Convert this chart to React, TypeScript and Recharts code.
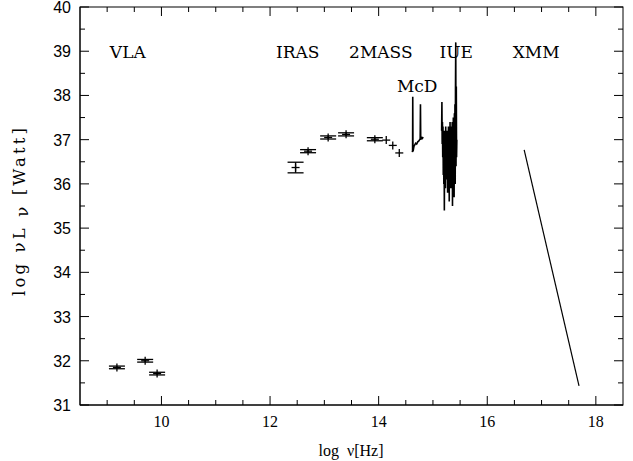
import React from 'react';
import {
  ScatterChart,
  Scatter,
  XAxis,
  YAxis,
  ErrorBar,
  ReferenceDot,
} from 'recharts';

// photometry: log nu, log nuL_nu, error in y
const vlaX = [9.18, 9.7, 9.92];
const vlaY = [31.85, 32.0, 31.71];
const vlaErr = [0.03, 0.03, 0.03];

const irX = [12.47, 12.7, 13.07, 13.4, 13.93, 14.14, 14.26, 14.38];
const irY = [36.37, 36.74, 37.05, 37.12, 37.01, 36.99, 36.87, 36.7];
const irErr = [0.12, 0.035, 0.035, 0.035, 0.035, 0, 0, 0];

// McDonald optical spectrum
const mcdX = [14.62, 14.625, 14.628, 14.632, 14.64, 14.65, 14.665, 14.68, 14.7, 14.72, 14.74, 14.755, 14.765, 14.77, 14.775, 14.79, 14.805, 14.82];
const mcdY = [36.72, 36.75, 37.97, 36.8, 36.78, 36.85, 36.88, 36.92, 36.9, 36.95, 36.97, 37.0, 37.02, 37.8, 37.0, 37.05, 37.03, 37.06];

// IUE UV spectrum
const iueX = [
  15.16, 15.165, 15.17, 15.175, 15.18, 15.185, 15.19, 15.195, 15.2, 15.205,
  15.21, 15.215, 15.22, 15.225, 15.23, 15.235, 15.24, 15.245, 15.25, 15.255,
  15.26, 15.265, 15.27, 15.275, 15.28, 15.285, 15.29, 15.295, 15.3, 15.305,
  15.31, 15.315, 15.32, 15.325, 15.33, 15.335, 15.34, 15.345, 15.35, 15.355,
  15.36, 15.365, 15.37, 15.375, 15.38, 15.385, 15.39, 15.395, 15.4, 15.405,
  15.41, 15.415, 15.42, 15.425, 15.43, 15.435, 15.44,
];
const iueY = [
  37.2, 37.85, 36.9, 37.4, 36.6, 37.3, 36.2, 37.1, 36.0, 36.9,
  35.4, 37.2, 36.3, 37.0, 35.9, 37.3, 36.4, 36.9, 36.1, 37.2,
  36.5, 37.0, 35.8, 37.1, 36.3, 37.3, 36.0, 37.0, 35.6, 37.2,
  36.4, 37.4, 36.2, 37.0, 35.9, 37.3, 36.6, 37.1, 36.0, 37.4,
  35.5, 37.2, 36.3, 37.5, 36.1, 37.3, 35.7, 37.6, 36.2, 37.8,
  36.0, 38.1, 39.2, 36.4, 38.2, 36.6, 37.0,
];

// XMM X-ray power law
const xmmX = [16.68, 17.69];
const xmmY = [36.77, 31.43];

const xTicks = [9, 9.5, 10, 10.5, 11, 11.5, 12, 12.5, 13, 13.5, 14, 14.5, 15, 15.5, 16, 16.5, 17, 17.5, 18];
const yTicks = [31, 31.5, 32, 32.5, 33, 33.5, 34, 34.5, 35, 35.5, 36, 36.5, 37, 37.5, 38, 38.5, 39, 39.5, 40];

const annotations = [
  { text: 'VLA', x: 9.38, y: 38.98 },
  { text: 'IRAS', x: 12.51, y: 38.98 },
  { text: '2MASS', x: 14.04, y: 38.98 },
  { text: 'IUE', x: 15.43, y: 38.98 },
  { text: 'XMM', x: 16.9, y: 38.98 },
  { text: 'McD', x: 14.71, y: 38.22 },
];

const X_DOMAIN = [8.5, 18.5];
const Y_DOMAIN = [31, 40];

// layout
const W = 633;
const H = 461;
const MARGIN = { top: 7, right: 10, bottom: 0, left: 0 };
const Y_AXIS_W = 80;
const X_AXIS_H = 56;
const plot = {
  left: MARGIN.left + Y_AXIS_W,
  top: MARGIN.top,
  width: W - MARGIN.left - MARGIN.right - Y_AXIS_W,
  height: H - MARGIN.top - MARGIN.bottom - X_AXIS_H,
};

const zip = (xs: number[], ys: number[], es?: number[]) =>
  xs.map((x, i) => ({ x, y: ys[i], ey: es ? es[i] : 0 }));

const vlaData = zip(vlaX, vlaY, vlaErr);
const irData = zip(irX, irY, irErr);
const mcdData = zip(mcdX, mcdY);
const iueData = zip(iueX, iueY);
const xmmData = zip(xmmX, xmmY);

const serif = '"Liberation Serif", "DejaVu Serif", serif';
const sans = '"Liberation Sans", Arial, sans-serif';

const BottomTick = (props: any) => {
  const { x, y, payload } = props;
  const major = payload.value % 2 === 0;
  return (
    <g>
      <line x1={x} x2={x} y1={y} y2={y - (major ? 9 : 5)} stroke="#000" />
      {major && (
        <text x={x} y={y + 22} textAnchor="middle" fontSize={16} fontFamily={serif} fill="#000">
          {payload.value}
        </text>
      )}
    </g>
  );
};

const LeftTick = (props: any) => {
  const { x, y, payload } = props;
  const major = Number.isInteger(payload.value);
  return (
    <g>
      <line x1={x} x2={x + (major ? 9 : 5)} y1={y} y2={y} stroke="#000" />
      {major && (
        <text x={x - 9} y={y + 6} textAnchor="end" fontSize={16} fontFamily={sans} fill="#000">
          {payload.value}
        </text>
      )}
    </g>
  );
};

// top and right sides of the box with inward ticks, as an overlay
const FrameOverlay = () => {
  const sx = (v: number) => plot.left + ((v - X_DOMAIN[0]) / (X_DOMAIN[1] - X_DOMAIN[0])) * plot.width;
  const sy = (v: number) => plot.top + ((Y_DOMAIN[1] - v) / (Y_DOMAIN[1] - Y_DOMAIN[0])) * plot.height;
  const right = plot.left + plot.width;
  return (
    <svg
      width={W}
      height={H}
      style={{ position: 'absolute', left: 0, top: 0, pointerEvents: 'none' }}
    >
      <g stroke="#000" fill="none">
        <rect x={plot.left} y={plot.top} width={plot.width} height={plot.height} />
        {xTicks.map((t) => (
          <line key={`tx${t}`} x1={sx(t)} x2={sx(t)} y1={plot.top} y2={plot.top + (t % 2 === 0 ? 9 : 5)} />
        ))}
        {yTicks.map((t) => (
          <line key={`ty${t}`} x1={right} x2={right - (Number.isInteger(t) ? 9 : 5)} y1={sy(t)} y2={sy(t)} />
        ))}
      </g>
    </svg>
  );
};

const Cross = (props: any) => {
  const { cx, cy } = props;
  return (
    <g stroke="#000" strokeWidth={1.3}>
      <line x1={cx - 4} x2={cx + 4} y1={cy} y2={cy} />
      <line x1={cx} x2={cx} y1={cy - 4} y2={cy + 4} />
    </g>
  );
};

const NoShape = () => null;

export default function App() {
  return (
    <div style={{ position: 'absolute', left: 0, top: 0, width: W, height: H, background: '#fff' }}>
      <ScatterChart width={W} height={H} margin={MARGIN}>
        <XAxis
          type="number"
          dataKey="x"
          domain={X_DOMAIN}
          ticks={xTicks}
          interval={0}
          height={X_AXIS_H}
          tickSize={0}
          tickMargin={0}
          tickLine={false}
          axisLine={{ stroke: '#000' }}
          tick={<BottomTick />}
          allowDataOverflow
        />
        <YAxis
          type="number"
          dataKey="y"
          domain={Y_DOMAIN}
          ticks={yTicks}
          interval={0}
          width={Y_AXIS_W}
          tickSize={0}
          tickMargin={0}
          tickLine={false}
          axisLine={{ stroke: '#000' }}
          tick={<LeftTick />}
          allowDataOverflow
        />

        <Scatter data={vlaData} shape={<Cross />} isAnimationActive={false}>
          <ErrorBar dataKey="ey" direction="y" width={8} stroke="#000" strokeWidth={1.3} />
        </Scatter>
        <Scatter data={irData} shape={<Cross />} isAnimationActive={false}>
          <ErrorBar dataKey="ey" direction="y" width={8} stroke="#000" strokeWidth={1.3} />
        </Scatter>
        <Scatter data={mcdData} shape={<NoShape />} line={{ stroke: '#000', strokeWidth: 1.6 }} isAnimationActive={false} />
        <Scatter data={iueData} shape={<NoShape />} line={{ stroke: '#000', strokeWidth: 1.6 }} isAnimationActive={false} />
        <Scatter data={xmmData} shape={<NoShape />} line={{ stroke: '#000', strokeWidth: 1.2 }} isAnimationActive={false} />

        {annotations.map((a) => (
          <ReferenceDot
            key={a.text}
            x={a.x}
            y={a.y}
            r={0}
            stroke="none"
            fill="none"
            label={{ value: a.text, position: 'center', fontSize: 17, fontFamily: '"DejaVu Serif", serif', fill: '#000' }}
          />
        ))}

        <text
          transform="translate(25, 296) rotate(-90)"
          textAnchor="start"
          fontSize={16.5}
          fontFamily='"DejaVu Serif", serif'
          fill="#000"
          textLength={168}
          lengthAdjust="spacing"
        >
          log νL<tspan dy={3}> ν</tspan>
          <tspan dy={-3}> [Watt]</tspan>
        </text>
        <text x={351} y={456} textAnchor="middle" fontSize={16} fontFamily={serif} fill="#000">
          log{'\u00a0 '}ν[Hz]
        </text>
      </ScatterChart>
      <FrameOverlay />
    </div>
  );
}
